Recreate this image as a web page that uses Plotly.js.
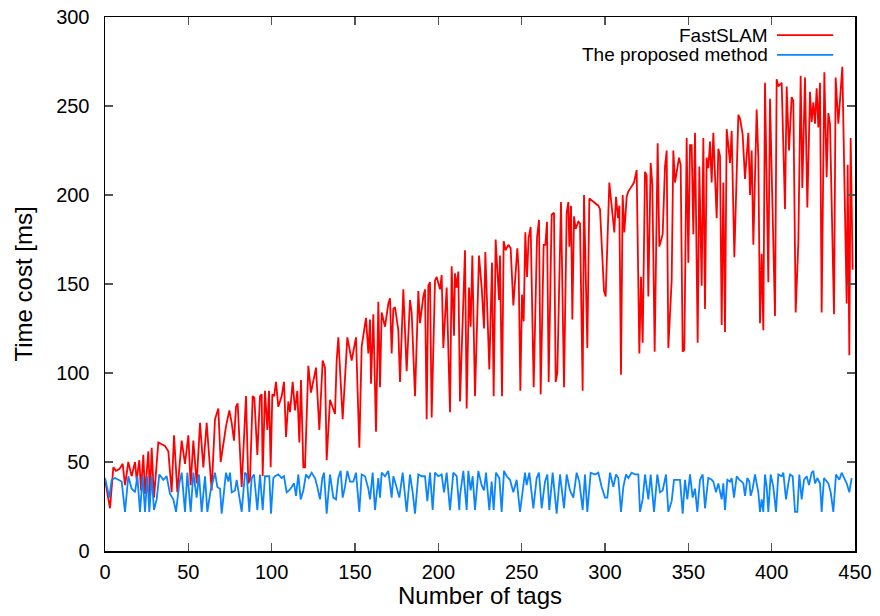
<!DOCTYPE html>
<html>
<head>
<meta charset="utf-8">
<script src="https://cdn.plot.ly/plotly-3.0.1.min.js"></script>
<style>
html,body{margin:0;padding:0;background:#fff;}
#chart{width:880px;height:616px;}
</style>
</head>
<body>
<div id="chart"></div>
<script>
// FastSLAM series (x = number of tags, y = time cost in ms)
const fastX = [0,3,5,6.6,8.6,10.6,12,14,16,18,19,20.6,21.6,23,24,26,27,28,29.4,32,34,36,38,40,41.4,43.4,46,48,50,51.4,53,55,57,59,61,64,66,68,69.4,71,72.6,74.6,76,77.4,78.6,79.6,80.6,82,84.6,86,87,88.6,89.6,91.4,93,94,94.6,96,97.4,98.4,99.4,100.4,101.5,102.6,104,106,107.4,108.6,110,111,112.6,114,115.4,116.6,117.6,119,120,122,123.6,125,126.6,128.6,130.6,132,133,135,137,138,139,140,
142.6,145.4,148,150.6,152.6,154,156.6,158,159,159.6,161,162.6,164,165,166,168,170,171,172,173,174,176,177,179,181,183,184,186,188,189,191,192,193,194,195,196,198,199,201,202,203,205,207,208,209.4,210,211,212,
213,214,216,217,218.4,219.4,220.4,222,224.4,226,227.4,228.2,230.6,232.2,233.2,234.4,236.4,237,238.2,239.2,240.4,242,243.4,245,247.4,248.2,249.2,250.2,251.2,252.2,253.2,254.2,255.4,257.2,259.2,260.4,261.4,263.2,264.2,265.2,266.2,268,269.4,270.4,271.4,273.6,275.4,277,278,278.6,279.6,280.4,281.4,282.4,284,
285,286.6,287.4,289.4,290.6,293,296,297,298,299.4,300.4,302.6,304.4,305.6,306.6,307.8,308.6,309.6,310.6,311.6,313,314,315.4,317.4,319,320.6,321.6,322.6,324,325,326,327.4,328.4,329.8,331.6,332.6,334.6,336,337,338,340,341,342,344.4,345.4,346.6,347.6,349,350,351,352,353,354,355.6,356.6,358,359,360,361,362,
363,364,365,366,367,368,369,370,371,372,373,374,375,376,377.6,380,381,382.6,384,386,387,388,389,391,392,393,394,395,396,398,399,402,403,404,406,408,409,410.4,412,413,414.4,416,417.4,418.4,420,421.4,423,424,425,426,427,428,429,430,431.6,433,434,435,437.4,438.4,440,442.4,445,445.6,446.6,447.4,448.6];
const fastY = [40,24,47,45,46,49,37,50,42,50,40,51,34,54,32,56,30,58,30,61,60,59,56,33,65,33,62,49,65,37,62,38,72,47,72,34,74,80,50,61,70,79,72,62,81,83,66,36,87,38,40,87,86,54,87,88,42,90,68,90,47,88,87,95,81,87,95,64,84,78,95,79,90,61,96,47,47,104,89,96,103,68,107,103,51,85,80,77,107,120,
74,120,107,120,58,115,131,111,130,94,133,67,140,92,134,126,139,142,111,136,137,124,95,147,101,141,134,87,146,128,143,147,74,149,151,75,152,154,147,155,114,148,78,160,121,156,148,157,
84,115,169,80,148,126,166,87,166,148,125,168,102,162,87,175,141,166,87,174,169,172,170,138,170,158,90,144,129,179,154,176,182,92,176,186,88,172,172,185,95,189,190,95,100,196,92,190,196,171,194,130,188,181,185,
184,90,200,114,198,196,194,192,170,146,143,207,190,179,199,187,194,99,200,179,199,202,204,207,214,111,154,117,213,211,143,218,206,112,229,171,178,216,225,114,152,225,207,221,217,112,113,232,162,228,228,178,235,117,216,149,232,136,221,215,
230,207,235,214,187,226,222,127,207,123,237,228,218,236,165,245,243,234,209,235,200,225,172,248,221,128,167,124,263,151,254,132,265,261,263,192,261,225,255,253,134,173,267,204,266,193,258,241,252,240,260,238,263,134,269,210,246,240,133,266,240,272,139,217,110,232,158];

// Proposed method series
const propX = [0,2.6,4,6,8,10,12,14,16,18,19.4,21,22.6,24,25.4,26.6,28,29.4,31,32.6,35,37,39,41,42.6,44.6,46,48,49.4,51.4,53,55,56.4,58,60,61.4,63.4,66,67.4,
69,70,71.4,72.6,74,75,76,78,79,80.6,82,84,85,86.6,88,89.4,91.4,93,94.6,96,97,98.6,99.6,101,102,104,106,107.4,109,110.4,112,113.4,114.6,116,117.4,119,120.6,122.2,124,126,127.4,129,130.4,131.4,133,135,137,138.6,140,
141.4,142.6,144,145.4,147,149,150.6,152.6,154,156,158,159,160.6,162,164,165,166,168,170,172,173,174.6,176.6,178.6,181,183,184.6,186,188,190,192,193.4,195,196.6,198,200,202,203.4,205,207,209,211,212.6,
213,215,217,218,219.4,220.6,222,224,226,227.4,228.6,230.6,232,233.2,234.6,236.6,238,239.4,241,243,245,247,249,250.6,252,253,254.6,257,259,260.4,262,264,265.4,266.6,268.6,271,273,275.4,277,279,281,283,284.6,
286.6,288,289.4,291.4,294,296,298,300,301.4,303,305,306.6,308,309.6,311,312.6,314,316,318,320,321,322.6,324,326,327.4,329.4,331.4,333,334.6,336.6,338,340,341.4,343,345,346.6,348,349.4,351,352.6,354,355.4,357,358.6,360,362,
364,365,366.6,368,370,371,372,373.4,375,376,377.4,379,380.6,382,383,384,385.4,386.6,387.4,388.6,390,392,393,394,395,396,397,398,399.4,401,402.6,404,406,407,408.6,410,411,412.6,414,415.4,416.6,418,419.4,421,422.4,424,425,426,427.4,429,430,431.4,433,434,435.4,437,438.6,440.6,442,443.4,445,446.6,448];
const propY = [41,30,40,41,40,39,22,42,35,33,42,22,42,22,42,22,42,23,29,43,40,42,32,29,22,38,44,22,44,22,44,30,43,22,42,22,34,44,36,
35,21,35,44,39,44,33,34,40,30,22,44,43,22,41,43,23,43,23,42,42,42,21,41,42,43,41,42,33,34,36,38,31,43,29,34,43,41,44,41,36,29,41,44,21,43,30,29,41,
45,30,36,45,39,39,44,22,43,42,35,29,44,23,41,30,44,42,45,30,42,37,30,44,22,43,33,21,43,42,42,28,44,23,44,42,43,33,44,23,44,42,23,
31,45,23,45,34,42,23,45,37,34,44,23,39,23,44,41,22,45,42,40,33,40,22,35,44,37,44,24,41,44,24,39,43,23,44,21,43,24,43,34,30,44,39,
23,43,22,44,43,44,36,30,30,44,36,43,41,22,36,43,41,44,43,43,22,29,43,29,43,22,43,33,34,43,22,28,40,40,40,21,40,29,43,30,35,22,40,43,24,41,
40,39,33,38,29,38,23,40,39,41,30,42,40,39,38,31,41,39,31,35,43,33,22,29,22,43,36,22,43,36,22,43,42,44,29,38,43,42,22,22,43,29,40,42,37,44,45,38,41,38,22,41,39,38,33,22,43,40,44,41,38,33,41];

const xTicks = [0,50,100,150,200,250,300,350,400,450];
const yTicks = [0,50,100,150,200,250,300];
const seriesNames = ['FastSLAM', 'The proposed method'];
const seriesColors = ['#ff0000', '#0a84ff'];

const FONT = '"Liberation Sans", Arial, Helvetica, sans-serif';

const traces = [
  {x: fastX, y: fastY, type: 'scatter', mode: 'lines', name: seriesNames[0],
   line: {color: seriesColors[0], width: 1.8}, showlegend: false},
  {x: propX, y: propY, type: 'scatter', mode: 'lines', name: seriesNames[1],
   line: {color: seriesColors[1], width: 1.8}, showlegend: false}
];

const axisCommon = {
  showgrid: false, zeroline: false,
  showline: true, linecolor: '#000', linewidth: 1.5, mirror: 'ticks',
  ticks: 'inside', ticklen: 8, tickwidth: 1.5, tickcolor: '#555',
  tickfont: {family: FONT, size: 20, color: '#000'}
};

const legendY = [0.966, 0.929];

const layout = {
  width: 880, height: 616,
  margin: {l: 105, r: 25, t: 17, b: 65},
  paper_bgcolor: '#fff', plot_bgcolor: '#fff',
  font: {family: FONT, color: '#000'},
  xaxis: Object.assign({}, axisCommon, {
    range: [0, 450], tickvals: xTicks, ticktext: xTicks.map(String),
    ticklabelstandoff: 2,
    title: {text: 'Number of tags', font: {family: FONT, size: 24}, standoff: 4}
  }),
  yaxis: Object.assign({}, axisCommon, {
    range: [0, 300], tickvals: yTicks, ticktext: yTicks.map(String),
    ticklabelstandoff: 10,
    title: {text: 'Time cost [ms]', font: {family: FONT, size: 24}, standoff: 16}
  }),
  annotations: seriesNames.map((n, i) => ({
    xref: 'paper', yref: 'paper', x: 0.886, y: legendY[i],
    xanchor: 'right', yanchor: 'middle',
    text: n, showarrow: false,
    font: {family: FONT, size: 19, color: '#000'}
  })),
  shapes: seriesColors.map((c, i) => ({
    type: 'line', xref: 'paper', yref: 'paper',
    x0: 0.896, x1: 0.971, y0: legendY[i], y1: legendY[i],
    line: {color: c, width: 1.8}
  }))
};

Plotly.newPlot('chart', traces, layout, {displayModeBar: false, staticPlot: true});
</script>
</body>
</html>
